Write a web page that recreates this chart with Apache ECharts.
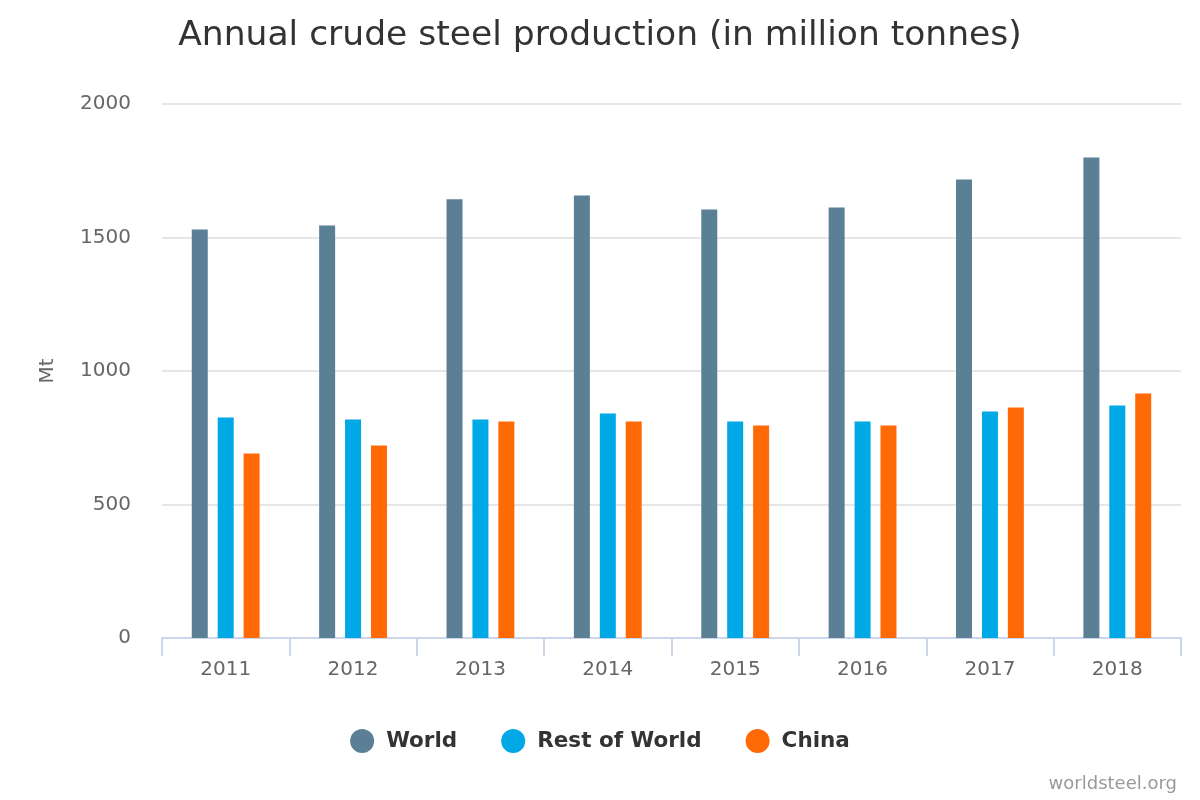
<!DOCTYPE html>
<html>
<head>
<meta charset="utf-8">
<script src="https://cdn.jsdelivr.net/npm/echarts@6/dist/echarts.min.js"></script>
<style>
  html, body { margin: 0; padding: 0; background: #fff; }
  #chart { width: 1200px; height: 800px; }
</style>
</head>
<body>
<div id="chart"></div>
<script>
var years = ['2011', '2012', '2013', '2014', '2015', '2016', '2017', '2018'];
var world = [1530, 1545, 1643, 1657, 1605, 1612, 1717, 1800];
var restOfWorld = [826, 818, 818, 841, 811, 811, 848, 871];
var china = [691, 721, 811, 811, 796, 796, 863, 916];
var yTicks = [0, 500, 1000, 1500, 2000];

var font = '"DejaVu Sans", sans-serif';

var myChart = echarts.init(document.getElementById('chart'));
myChart.setOption({
    animation: false,
    textStyle: { fontFamily: font },
    title: [
        {
            text: 'Annual crude steel production (in million tonnes)',
            left: 'center',
            top: 14,
            textStyle: { fontSize: 34.5, fontWeight: 'normal', color: '#333', fontFamily: font }
        },
        {
            text: 'worldsteel.org',
            right: 18,
            bottom: 2,
            textStyle: { fontSize: 18, fontWeight: 'normal', color: '#999', fontFamily: font }
        }
    ],
    legend: {
        bottom: 42,
        left: 'center',
        icon: 'circle',
        itemWidth: 24,
        itemHeight: 24,
        itemGap: 44,
        textStyle: { fontSize: 21.5, fontWeight: 'bold', color: '#333', fontFamily: font, padding: [0, 0, 0, 7] }
    },
    grid: { left: 162, right: 19, top: 104, bottom: 162 },
    xAxis: {
        type: 'category',
        data: years,
        axisLine: { lineStyle: { color: '#ccd6eb', width: 2 } },
        axisTick: { show: true, length: 18, lineStyle: { color: '#ccd6eb', width: 2 } },
        axisLabel: { fontSize: 20, color: '#666', margin: 22 }
    },
    yAxis: {
        type: 'value',
        min: yTicks[0],
        max: yTicks[yTicks.length - 1],
        interval: 500,
        name: 'Mt',
        nameLocation: 'middle',
        nameGap: 104,
        nameTextStyle: { fontSize: 20, color: '#666' },
        axisLabel: { fontSize: 20, color: '#666', margin: 31, formatter: function (v) { return String(v); } },
        splitLine: { lineStyle: { color: '#e6e6e6', width: 2 } }
    },
    series: [
        { name: 'World', type: 'bar', data: world, barWidth: 16, barGap: '62%', itemStyle: { color: '#5b7f95' } },
        { name: 'Rest of World', type: 'bar', data: restOfWorld, barWidth: 16, itemStyle: { color: '#00a9e6' } },
        { name: 'China', type: 'bar', data: china, barWidth: 16, itemStyle: { color: '#ff6a07' } }
    ]
});
</script>
</body>
</html>
